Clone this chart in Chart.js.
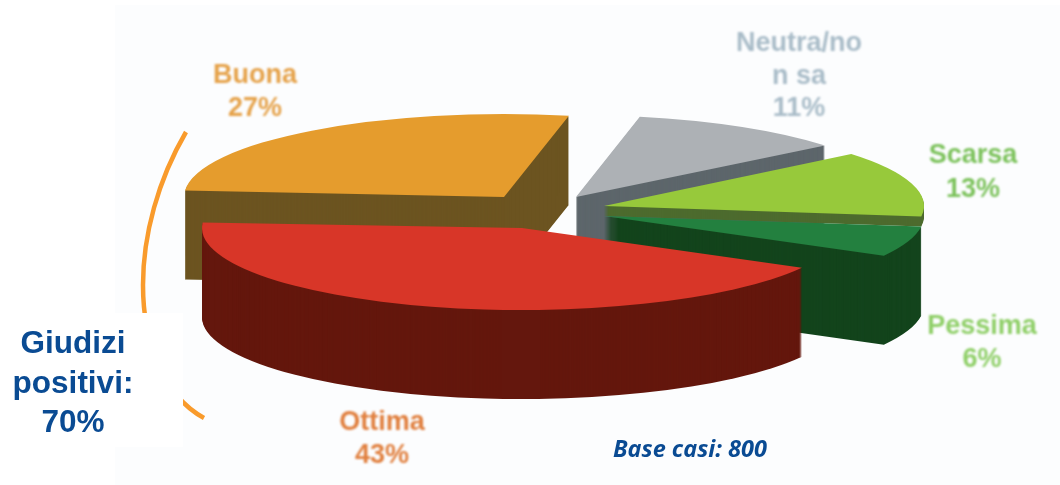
<!DOCTYPE html>
<html><head><meta charset="utf-8">
<style>html,body{margin:0;padding:0;background:#fff}canvas{display:block}</style>
<script src="https://cdn.jsdelivr.net/npm/chart.js@4"></script>
</head><body><canvas id="c" width="1060" height="485"></canvas>
<script>
// Data
const categories = ['Ottima','Buona','Neutra/non sa','Scarsa','Pessima'];
const shares = [43,27,11,13,6];
const topColors = ['#d83628','#e59c2d','#adb1b5','#97c93b','#23803f'];
const wallColors = ['#64170d','#6c5420','#5d666b','#4d6b2e','#13441c'];
const labelLines = [['Ottima','43%'],['Buona','27%'],['Neutra/no','n sa','11%'],['Scarsa','13%'],['Pessima','6%']];
const labelColors = ['#e07f3e','#e5a24a','#a9bcc8','#7cc25c','#8fcf68'];
const summaryLines = ['Giudizi','positivi:','70%'];
const baseNote = 'Base casi: 800';

// Layout of the exploded pseudo-3D slices (per slice)
const sliceCx = [522,504,576,604,604];
const sliceCy = [228,197,197,206,216];
const sliceRx = [320,320,320,320,320];
const sliceRy = [82,83,82,82,82];
const sliceTurn = [0,0.7,0.5,0,0];
const sliceDepth = [89,89,89,10,89];
const drawOrder = [1,2,3,4,0];
const labelX = [382,255,799,973,982];
const labelY = [430,83,51,163,334];
const labelStep = [33,33,32.5,34,33];

function drawSlice(ctx, arc, i, color, dy){
  const saved = arc.options;
  arc.options = Object.assign({}, saved, {backgroundColor: color, borderWidth: 0});
  ctx.save();
  ctx.translate(sliceCx[i], sliceCy[i] + dy);
  ctx.scale(sliceRx[i]/arc.outerRadius, sliceRy[i]/arc.outerRadius);
  ctx.rotate(sliceTurn[i]*Math.PI/180);
  ctx.translate(-arc.x, -arc.y);
  arc.draw(ctx);
  ctx.restore();
  arc.options = saved;
}

const pie3d = {
  id: 'pie3d',
  beforeDraw(chart){
    const ctx = chart.ctx;
    ctx.save();
    ctx.fillStyle = '#fcfdfe';
    ctx.fillRect(115,5,945,480);
    ctx.restore();
  },
  beforeDatasetsDraw(chart){
    const ctx = chart.ctx;
    const arcs = chart.getDatasetMeta(0).data;
    for (const i of drawOrder){
      for (let d = sliceDepth[i]; d > 0; d--) drawSlice(ctx, arcs[i], i, wallColors[i], d);
      drawSlice(ctx, arcs[i], i, topColors[i], 0);
    }
    // bracket and its white caption box
    ctx.save();
    ctx.strokeStyle = '#f99b2c';
    ctx.lineWidth = 4.5;
    ctx.beginPath();
    ctx.moveTo(186,132);
    ctx.bezierCurveTo(158,180,143,235,143,285);
    ctx.bezierCurveTo(143,340,162,395,204,418);
    ctx.stroke();
    ctx.fillStyle = '#ffffff';
    ctx.fillRect(0,313,183,134);
    ctx.textAlign = 'center';
    ctx.textBaseline = 'alphabetic';
    ctx.fillStyle = '#0a4b93';
    ctx.font = 'bold 31.5px "Liberation Sans"';
    summaryLines.forEach((t,k)=>ctx.fillText(t,73,353+k*39.5));
    ctx.filter = 'blur(0.8px)';
    ctx.font = 'bold 27px "Liberation Sans"';
    labelLines.forEach((lines,i)=>{
      ctx.fillStyle = labelColors[i];
      lines.forEach((t,k)=>ctx.fillText(t,labelX[i],labelY[i]+k*labelStep[i]));
    });
    ctx.filter = 'none';
    ctx.textAlign = 'left';
    ctx.fillStyle = '#0a4b93';
    ctx.font = 'italic bold 23.5px "Open Sans"';
    ctx.fillText(baseNote,613,457);
    ctx.restore();
    return false;
  }
};

new Chart(document.getElementById('c'), {
  type: 'pie',
  data: { labels: categories, datasets: [{ data: shares, backgroundColor: topColors, borderWidth: 0 }] },
  options: {
    responsive: false,
    animation: false,
    rotation: 119,
    layout: { padding: 0 },
    plugins: { legend: { display: false }, tooltip: { enabled: false } }
  },
  plugins: [pie3d]
});
</script></body></html>
